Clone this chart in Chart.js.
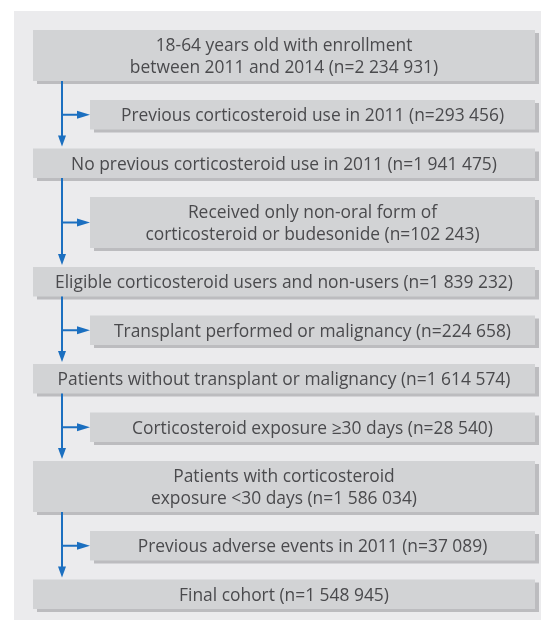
<!DOCTYPE html>
<html>
<head>
<meta charset="utf-8">
<script src="https://cdn.jsdelivr.net/npm/chart.js@4/dist/chart.umd.min.js"></script>
<style>
html,body{margin:0;padding:0;background:#ffffff;}
#wrap{width:542px;height:620px;}
</style>
</head>
<body>
<div id="wrap"><canvas id="c" width="542" height="620"></canvas></div>
<script>
// ---- Flow data ----
const mainSteps = [
  "18-64 years old with enrollment\nbetween 2011 and 2014",
  "No previous corticosteroid use in 2011",
  "Eligible corticosteroid users and non-users",
  "Patients without transplant or malignancy",
  "Patients with corticosteroid\nexposure <30 days",
  "Final cohort"
];
const mainCounts = [2234931, 1941475, 1839232, 1614574, 1586034, 1548945];
const exclusionSteps = [
  "Previous corticosteroid use in 2011",
  "Received only non-oral form of\ncorticosteroid or budesonide",
  "Transplant performed or malignancy",
  "Corticosteroid exposure \u226530 days",
  "Previous adverse events in 2011"
];
const exclusionCounts = [293456, 102243, 224658, 28540, 37089];

function fmt(n){
  return String(n).replace(/\B(?=(\d{3})+(?!\d))/g, " ");
}

// ---- layout (flow units = page pixels through the scales) ----
const L = {
  panel:{x0:14,x1:541,y0:11,y1:620},
  mainX0:33, sideX0:90, boxX1:535, spineX:62,
  top:30, gap:19, line1:29.5, lineExtra:21.5, lineH:21.5, textDy:1.5,
  font:'17.4px "Open Sans"', color:'#4a4a4d',
  fill:'#d2d3d5', shadow:'#bcbcbf', bg:'#ebebed', arrow:'#1b6fc0'
};

const nodes = [];
mainSteps.forEach((t,i)=>{
  nodes.push({kind:'main', text:t, n:mainCounts[i]});
  if(i < exclusionSteps.length) nodes.push({kind:'side', text:exclusionSteps[i], n:exclusionCounts[i]});
});
let yy = L.top;
nodes.forEach(nd=>{
  const lines = (nd.text + " (n=" + fmt(nd.n) + ")").split("\n");
  nd.lines = lines;
  nd.y0 = yy;
  nd.y1 = yy + L.line1 + (lines.length-1)*L.lineExtra;
  yy = nd.y1 + L.gap;
});

const flowPlugin = {
  id:'flow',
  beforeDraw(chart){
    const ctx = chart.ctx, xs = chart.scales.x, ys = chart.scales.y;
    const px = v => xs.getPixelForValue(v), py = v => ys.getPixelForValue(v);
    ctx.save();
    ctx.fillStyle = '#ffffff';
    ctx.fillRect(0,0,chart.width,chart.height);
    ctx.fillStyle = L.bg;
    ctx.fillRect(px(L.panel.x0), py(L.panel.y0), px(L.panel.x1)-px(L.panel.x0), py(L.panel.y1)-py(L.panel.y0));
    nodes.forEach(nd=>{
      const x0 = nd.kind==='main'?L.mainX0:L.sideX0;
      ctx.fillStyle = L.shadow;
      ctx.fillRect(px(x0+4), py(nd.y0+3), px(L.boxX1)-px(x0), py(nd.y1)-py(nd.y0));
      ctx.fillStyle = L.fill;
      ctx.fillRect(px(x0), py(nd.y0), px(L.boxX1)-px(x0), py(nd.y1)-py(nd.y0));
    });
    ctx.strokeStyle = L.arrow; ctx.fillStyle = L.arrow; ctx.lineWidth = 2;
    for(let i=0;i+2<nodes.length;i+=2){
      const a = nodes[i], s = nodes[i+1], b = nodes[i+2];
      const sx = px(L.spineX);
      ctx.beginPath();
      ctx.moveTo(sx, py(a.y1));
      ctx.lineTo(sx, py(b.y0)-10);
      ctx.stroke();
      ctx.beginPath();
      ctx.moveTo(sx-4, py(b.y0)-13);
      ctx.lineTo(sx+4, py(b.y0)-13);
      ctx.lineTo(sx, py(b.y0)-2);
      ctx.closePath(); ctx.fill();
      const by = py((s.y0+s.y1)/2);
      ctx.beginPath();
      ctx.moveTo(sx, by);
      ctx.lineTo(px(L.sideX0)-10, by);
      ctx.stroke();
      ctx.beginPath();
      ctx.moveTo(px(L.sideX0)-13, by-4);
      ctx.lineTo(px(L.sideX0)-13, by+4);
      ctx.lineTo(px(L.sideX0), by);
      ctx.closePath(); ctx.fill();
    }
    ctx.fillStyle = L.color; ctx.font = L.font;
    ctx.textAlign = 'center'; ctx.textBaseline = 'middle';
    nodes.forEach(nd=>{
      const x0 = nd.kind==='main'?L.mainX0:L.sideX0;
      const cx = px((x0+L.boxX1)/2);
      const cy = py((nd.y0+nd.y1)/2 + L.textDy);
      const n = nd.lines.length;
      nd.lines.forEach((ln,k)=>{
        ctx.fillText(ln, cx, cy + (k-(n-1)/2)*L.lineH);
      });
    });
    ctx.restore();
  }
};

new Chart(document.getElementById('c'), {
  type:'scatter',
  data:{datasets:[{data:[], pointRadius:0}]},
  options:{
    responsive:false, animation:false,
    layout:{padding:0},
    plugins:{legend:{display:false}, tooltip:{enabled:false}},
    scales:{
      x:{type:'linear', min:0, max:542, display:false},
      y:{type:'linear', min:0, max:620, reverse:true, display:false}
    }
  },
  plugins:[flowPlugin]
});
</script>
</body>
</html>
